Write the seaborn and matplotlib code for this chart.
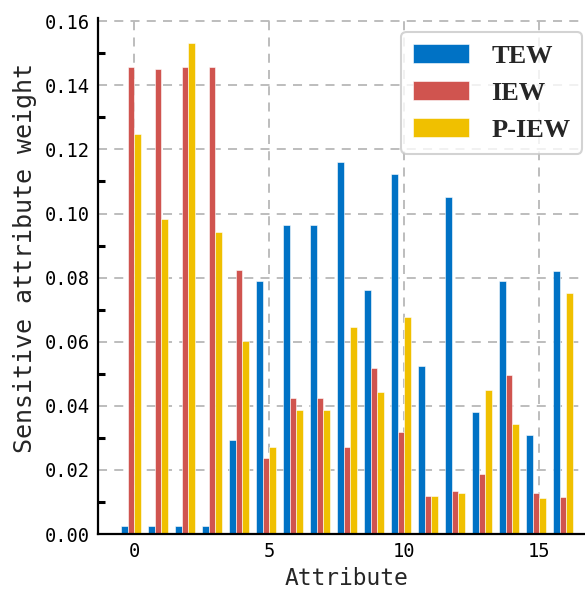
import numpy as np
import pandas as pd
import matplotlib
matplotlib.use("Agg")
import matplotlib.pyplot as plt
import seaborn as sns
from matplotlib.ticker import MultipleLocator

attributes = list(range(17))
tew = [0.0026, 0.0026, 0.0026, 0.0026, 0.0294, 0.0788, 0.0963, 0.0963, 0.1160,
       0.0760, 0.1122, 0.0523, 0.1052, 0.0381, 0.0788, 0.0308, 0.0822]
iew = [0.1458, 0.1452, 0.1458, 0.1456, 0.0824, 0.0238, 0.0425, 0.0425, 0.0271,
       0.0518, 0.0319, 0.0118, 0.0134, 0.0188, 0.0497, 0.0128, 0.0115]
piew = [0.1249, 0.0982, 0.1533, 0.0943, 0.0602, 0.0273, 0.0388, 0.0388, 0.0646,
        0.0442, 0.0676, 0.0118, 0.0127, 0.0448, 0.0344, 0.0111, 0.0753]
series_names = ["TEW", "IEW", "P-IEW"]
colors = ["#0072C5", "#D0544F", "#F0C000"]
xtick_labels = [0, 5, 10, 15]

df = pd.DataFrame({
    "Attribute": attributes * 3,
    "weight": tew + iew + piew,
    "series": [series_names[0]] * 17 + [series_names[1]] * 17 + [series_names[2]] * 17,
})

sns.set_style("white")
plt.rcParams["font.family"] = ["DejaVu Sans Mono"]

fig = plt.figure(figsize=(5.85, 5.89), dpi=100)
ax = fig.add_axes([98 / 585, 1 - 534 / 589, 1 - 98 / 585, (534 - 18) / 589])

sns.barplot(data=df, x="Attribute", y="weight", hue="series", palette=colors,
            width=0.75, dodge=True, ax=ax, edgecolor="white", linewidth=0.4,
            saturation=1, legend=True)

off = 0.125
ax.set_xticks([v + off for v in xtick_labels])
ax.set_xticklabels([str(v) for v in xtick_labels])
ax.set_xlim(-1.345 + off, 16.69 + off)
ax.set_ylim(0, 0.161)
ax.yaxis.set_minor_locator(MultipleLocator(0.01))
ax.set_yticks(np.arange(0, 0.1601, 0.02))
ax.set_yticklabels([f"{v:.2f}" for v in np.arange(0, 0.1601, 0.02)])

ax.grid(True, which="major", axis="both", linestyle=(0, (5, 4)), color="#b8b8b8", linewidth=1.3)
ax.set_axisbelow(True)
for s in ["top", "right"]:
    ax.spines[s].set_visible(False)
for s in ["left", "bottom"]:
    ax.spines[s].set_color("black")
    ax.spines[s].set_linewidth(1.6)

ax.tick_params(axis="y", which="major", direction="in", length=8.5, width=2.6, colors="black", labelsize=13.5, pad=6)
ax.tick_params(axis="y", which="minor", direction="in", length=5, width=2.2, colors="black", left=True)
ax.tick_params(axis="x", which="major", direction="in", length=8.5, width=2.6, colors="black", labelsize=13.5, pad=6)

ax.set_xlabel("Attribute", fontsize=16.5, labelpad=4)
ax.set_ylabel("Sensitive attribute weight", fontsize=18)
ax.yaxis.set_label_coords(-0.125, 0.535)
ax.xaxis.label.set_x(0.51)

leg = ax.legend(loc="upper right", bbox_to_anchor=(0.994, 0.973), borderaxespad=0,
                prop={"family": "Liberation Serif", "weight": "bold", "size": 19},
                handlelength=2.1, handleheight=0.75, handletextpad=0.85, labelspacing=0.5,
                frameon=True, fancybox=True, framealpha=0.8, edgecolor="#c8c8c8",
                borderpad=0.45)
leg.get_frame().set_linewidth(1.5)

fig.savefig("out.png", dpi=100)
